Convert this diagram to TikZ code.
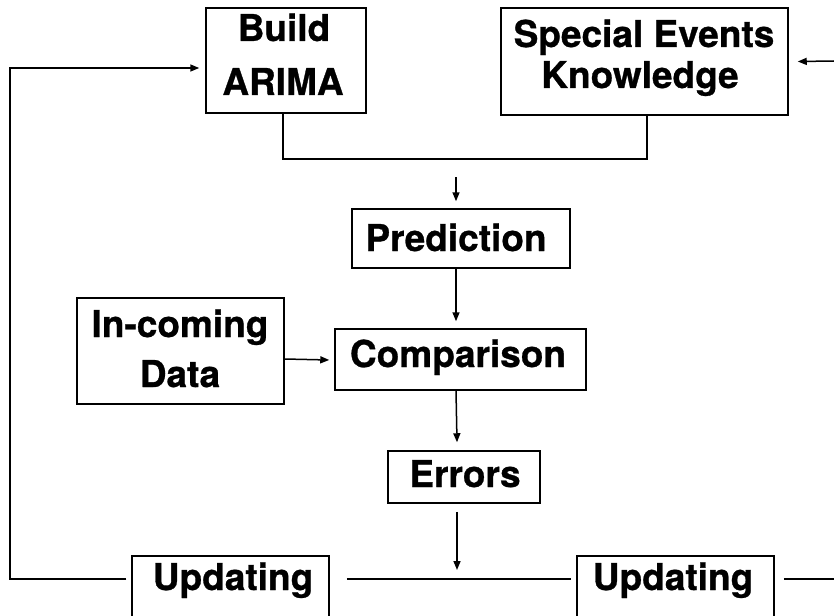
\documentclass[tikz,border=0pt]{standalone}
\usepackage{fontspec}
\setmainfont{TeX Gyre Heros}[BoldFeatures={FakeBold=0.8}]
\usetikzlibrary{arrows.meta,calc}
\tikzset{
  box/.style={draw, line width=1.5pt, rectangle, inner sep=0pt},
  lbl/.style={anchor=base, inner sep=0pt, font=\fontsize{37}{44}\selectfont\bfseries},
  con/.style={line width=1.5pt},
  arr/.style={line width=1.5pt, -{Triangle[length=9pt,width=7pt]}},
}
\begin{document}
\begin{tikzpicture}[x=1pt,y=-1pt]
\useasboundingbox (0,0) rectangle (834,615);
% boxes
\node[box, minimum width=160pt, minimum height=105pt] (build) at (286,60.5) {};
\node[box, minimum width=287pt, minimum height=107pt] (special) at (644.5,61.5) {};
\node[box, minimum width=218pt, minimum height=59pt] (pred) at (461,238.5) {};
\node[box, minimum width=207pt, minimum height=106pt] (incoming) at (180.5,351) {};
\node[box, minimum width=251pt, minimum height=61pt] (comp) at (460.5,359.5) {};
\node[box, minimum width=152pt, minimum height=52pt] (err) at (464,477) {};
\node[box, minimum width=197pt, minimum height=90pt] (upd1) at (230.5,601) {};
\node[box, minimum width=197pt, minimum height=90pt] (upd2) at (675.5,601) {};
% texts
\node[lbl] (tbuild) at (284,41) {Build};
\node[lbl] (tarima) at (283,95) {ARIMA};
\node[lbl] (tspecial) at (644,47) {Special Events};
\node[lbl] (tknow) at (640,88) {Knowledge};
\node[lbl] (tpred) at (456,251) {Prediction};
\node[lbl] (tin) at (180,337) {In-coming};
\node[lbl] (tdata) at (180,387) {Data};
\node[lbl] (tcomp) at (458,367) {Comparison};
\node[lbl] (terr) at (465,487) {Errors};
\node[lbl] (tupd1) at (233,590) {Updating};
\node[lbl] (tupd2) at (673,590) {Updating};
% coordinates
\coordinate (junc) at (456,159);
\coordinate (rin) at (834,61);
\coordinate (rout) at (834,579);
\coordinate (loopc) at (10,579);
\coordinate (mid) at (456,579);
% connectors
\draw[con] ([xshift=-3pt]build.south) |- (junc) -| ([xshift=2.5pt]special.south);
\draw[arr] ([yshift=-18pt]junc) -- ([xshift=-5pt,yshift=7pt]pred.north);
\draw[arr] ([xshift=-5pt]pred.south) -- ([xshift=-4.5pt,yshift=7pt]comp.north);
\draw[arr] ([xshift=-4.5pt]comp.south) -- ([xshift=-7pt,yshift=8pt]err.north);
\draw[arr] ([xshift=-7pt,yshift=-8pt]err.south) -- ([xshift=1pt,yshift=9pt]mid);
\draw[arr] ([yshift=-8pt]incoming.east) -- ([yshift=-0.5pt,xshift=-5pt]comp.west);
\draw[arr] (rin) -- ([xshift=9pt]special.east);
\draw[arr] ([xshift=-5pt]upd1.west |- loopc) -- (loopc) |- ([xshift=-6pt,yshift=-7.5pt]build.west);
\draw[con] ([xshift=17pt]upd1.east |- mid) -- ([xshift=-5pt]upd2.west |- mid);
\draw[con] ([xshift=9pt]upd2.east |- rout) -- (rout);
\end{tikzpicture}
\end{document}
